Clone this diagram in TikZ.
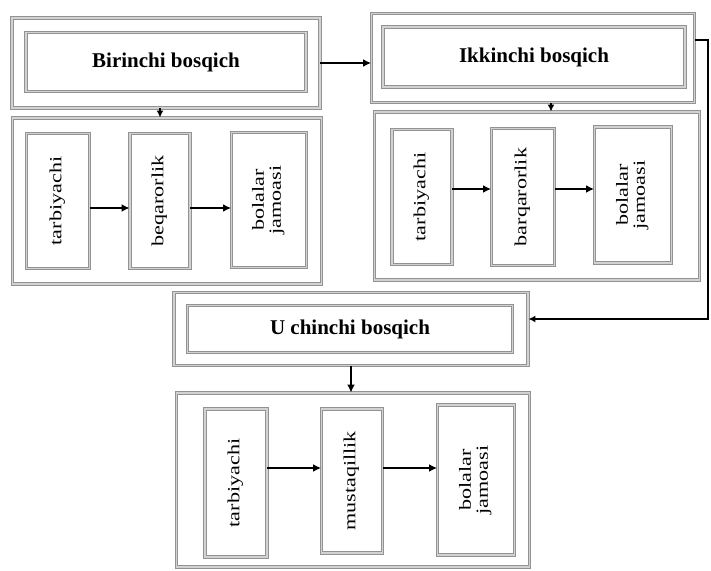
\documentclass[tikz,border=0pt]{standalone}
\usepackage{fontspec}
\setmainfont{Liberation Serif}
\usetikzlibrary{arrows.meta}
\newcommand{\vtext}[1]{\rotatebox{90}{\scalebox{1.3}[1]{\begin{tabular}{@{}c@{}}#1\end{tabular}}}}
\tikzset{
  frame/.style={draw=gray!85, line width=0.9pt, double=gray!35, double distance=1.8pt, fill=white, inner sep=0pt},
  stage/.style={frame, font=\fontsize{21}{24}\selectfont\bfseries},
  cell/.style={frame, font=\fontsize{17}{17}\selectfont},
  link/.style={line width=2.2pt, -{Latex[length=8pt,width=8pt]}},
  tie/.style={line width=1.6pt, -{Latex[length=7pt,width=7pt]}}
}
\begin{document}
\begin{tikzpicture}[x=1pt, y=1pt]
\useasboundingbox (0,0) rectangle (711,570);

% Birinchi bosqich
\node[frame, minimum width=308pt, minimum height=90pt] (b1out) at (166,507) {};
\node[stage, minimum width=280pt, minimum height=59pt] (b1in) at (166,508) {Birinchi bosqich};
\node[frame, minimum width=309pt, minimum height=166pt] (c1) at (167,369) {};
\node[cell, minimum width=63pt, minimum height=135pt] (t1) at (58,369) {\vtext{tarbiyachi}};
\node[cell, minimum width=60pt, minimum height=135pt] (q1) at (160,369) {\vtext{beqarorlik}};
\node[cell, minimum width=75pt, minimum height=135pt] (j1) at (269,370) {\vtext{bolalar\\jamoasi}};
\draw[tie] (b1out.south -| q1) -- (q1 |- c1.north);
\draw[link] ([yshift=-7pt]t1.east) -- ([yshift=-7pt]t1.east -| q1.west);
\draw[link] ([yshift=-7pt]q1.east) -- ([yshift=-7pt]q1.east -| j1.west);

% Ikkinchi bosqich
\node[frame, minimum width=323pt, minimum height=89pt] (b2out) at (533,512) {};
\node[stage, minimum width=302pt, minimum height=60pt] (b2in) at (534,513) {Ikkinchi bosqich};
\node[frame, minimum width=325pt, minimum height=168pt] (c2) at (537,374) {};
\node[cell, minimum width=60pt, minimum height=135pt] (t2) at (422,373) {\vtext{tarbiyachi}};
\node[cell, minimum width=63pt, minimum height=137pt] (q2) at (523,373) {\vtext{barqarorlik}};
\node[cell, minimum width=77pt, minimum height=136pt] (j2) at (633,375) {\vtext{bolalar\\jamoasi}};
\draw[link] (b1out.east) -- (b1out.east -| b2out.west);
\draw[tie] ([xshift=18pt]b2out.south) -- ([xshift=18pt]b2out.south |- c2.north);
\draw[link] ([yshift=8pt]t2.east) -- ([yshift=8pt]t2.east -| q2.west);
\draw[link] ([yshift=8pt]q2.east) -- ([yshift=8pt]q2.east -| j2.west);

% Uchinchi bosqich
\node[frame, minimum width=354pt, minimum height=73pt] (b3out) at (351,241) {};
\node[stage, minimum width=325pt, minimum height=47pt] (b3in) at (350,241) {U chinchi bosqich};
\node[frame, minimum width=353pt, minimum height=174pt] (c3) at (353,90) {};
\node[cell, minimum width=62pt, minimum height=148pt] (t3) at (236,87) {\vtext{tarbiyachi}};
\node[cell, minimum width=61pt, minimum height=144pt] (m3) at (352,89) {\vtext{mustaqillik}};
\node[cell, minimum width=77pt, minimum height=150pt] (j3) at (476,90) {\vtext{bolalar\\jamoasi}};
\draw[link] (b3out.south) -- (b3out.south |- c3.north);
\draw[link] ([yshift=15pt]t3.east) -- ([yshift=15pt]t3.east -| m3.west);
\draw[link] ([yshift=13pt]m3.east) -- ([yshift=13pt]m3.east -| j3.west);

% ikkinchidan uchinchiga
\coordinate (r1) at (708,530);
\coordinate (r2) at (708,251);
\draw[tie] (b2out.east |- r1) -- (r1) -- (r2) -- (r2 -| b3out.east);
\end{tikzpicture}
\end{document}
